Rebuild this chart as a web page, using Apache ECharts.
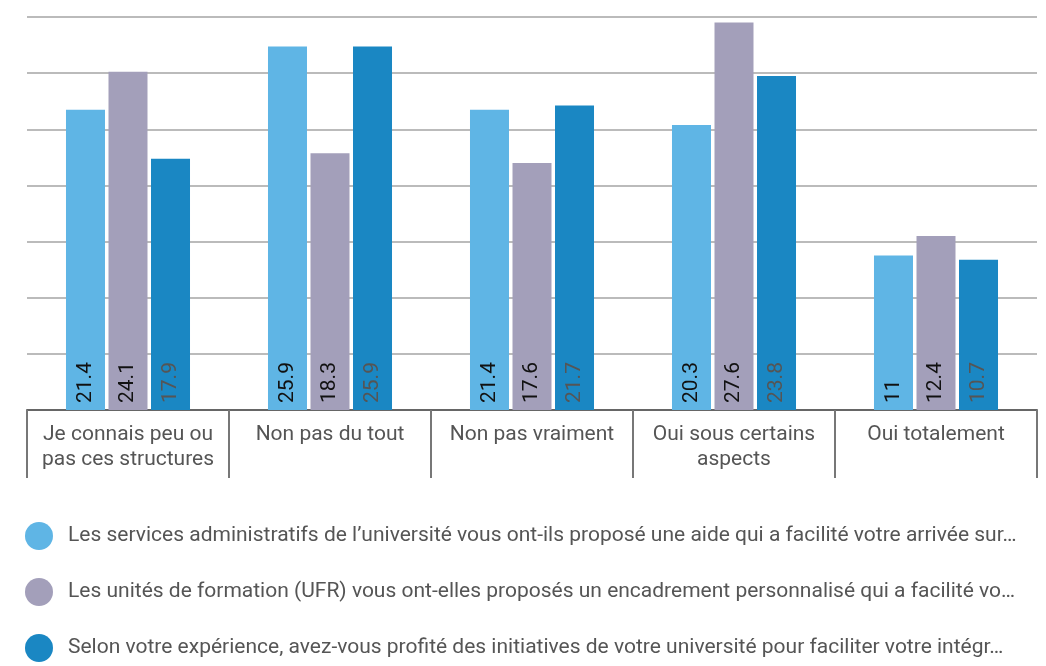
<!DOCTYPE html>
<html>
<head>
<meta charset="utf-8">
<script src="https://cdn.jsdelivr.net/npm/echarts@6/dist/echarts.min.js"></script>
<style>
  html, body { margin: 0; padding: 0; background: #fff; }
  #chart { width: 1046px; height: 666px; }
</style>
</head>
<body>
<div id="chart"></div>
<script>
var categories = ['Je connais peu ou\npas ces structures', 'Non pas du tout', 'Non pas vraiment', 'Oui sous certains\naspects', 'Oui totalement'];
var seriesNames = [
  'Les services administratifs de l\u2019université vous ont-ils proposé une aide qui a facilité votre arrivée sur…',
  'Les unités de formation (UFR) vous ont-elles proposés un encadrement personnalisé qui a facilité vo…',
  'Selon votre expérience, avez-vous profité des initiatives de votre université pour faciliter votre intégr…'
];
var servicesAdmin = [21.4, 25.9, 21.4, 20.3, 11];
var unitesFormation = [24.1, 18.3, 17.6, 27.6, 12.4];
var initiatives = [17.9, 25.9, 21.7, 23.8, 10.7];
var colors = ['#5fb5e5', '#a39fba', '#1a87c3'];

var chart = echarts.init(document.getElementById('chart'));

function makeSeries(name, data, color, labelColor) {
  return {
    name: name,
    type: 'bar',
    data: data,
    barWidth: 39,
    barGap: '9%',
    itemStyle: { color: color },
    label: {
      show: true,
      position: 'insideBottom',
      rotate: 90,
      align: 'left',
      verticalAlign: 'middle',
      distance: 7,
      fontSize: 21,
      fontFamily: 'Roboto',
      color: labelColor
    }
  };
}

chart.setOption({
  animation: false,
  textStyle: { fontFamily: 'Roboto' },
  grid: { left: 27, right: 9, top: 17, bottom: 256 },
  legend: {
    orient: 'vertical',
    left: 25,
    top: 522,
    height: 150,
    padding: 0,
    icon: 'circle',
    itemWidth: 28,
    itemHeight: 28,
    itemGap: 28,
    textStyle: { fontSize: 21, color: '#555', fontFamily: 'Roboto', padding: [0, 0, 0, 10] },
    data: seriesNames
  },
  xAxis: {
    type: 'category',
    data: categories,
    axisLine: { lineStyle: { color: '#666', width: 2 } },
    axisTick: { show: true, interval: 0, length: 68, lineStyle: { color: '#777', width: 2 } },
    axisLabel: { interval: 0, fontSize: 21, color: '#555', lineHeight: 25, margin: 12 }
  },
  yAxis: {
    type: 'value',
    min: 0,
    max: 28,
    interval: 4,
    axisLabel: { show: false },
    axisLine: { show: false },
    axisTick: { show: false },
    splitLine: { lineStyle: { color: '#bbb', width: 2 } }
  },
  series: [
    makeSeries(seriesNames[0], servicesAdmin, colors[0], '#111'),
    makeSeries(seriesNames[1], unitesFormation, colors[1], '#111'),
    makeSeries(seriesNames[2], initiatives, colors[2], '#555')
  ]
});
</script>
</body>
</html>
